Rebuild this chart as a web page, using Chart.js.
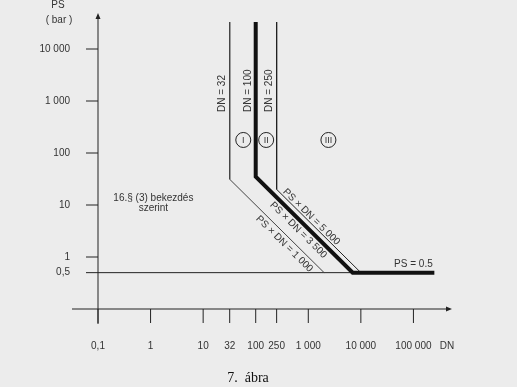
<!DOCTYPE html>
<html>
<head>
<meta charset="utf-8">
<script src="https://cdn.jsdelivr.net/npm/chart.js@4/dist/chart.umd.min.js"></script>
<style>
  html, body { margin: 0; padding: 0; background: #ececec; }
  canvas { display: block; }
</style>
</head>
<body>
<canvas id="chart" width="517" height="387"></canvas>
<script>
// ── Datos ────────────────────────────────────────────────────────────────
const xTicks      = [0.1, 1, 10, 32, 100, 250, 1000, 10000, 100000];
const xTickLabels = ["0,1", "1", "10", "32", "100", "250", "1 000", "10 000", "100 000"];
const yTicks      = [0.5, 1, 10, 100, 1000, 10000];
const yTickLabels = ["0,5", "1", "10", "100", "1 000", "10 000"];

// DN = 100 / PS x DN = 3 500 / PS = 0.5 (vastag)
const thickDN = [100, 100, 7000, 250000];
const thickPS = [33000, 35, 0.5, 0.5];
// DN = 32 / PS x DN = 1 000
const dn32DN = [32, 32, 2000];
const dn32PS = [33000, 31.25, 0.5];
// DN = 250 / PS x DN = 5 000
const dn250DN = [250, 250, 10000];
const dn250PS = [33000, 20, 0.5];
// PS = 0.5 (vékony)
const baseDN = [0.1, 7000];
const basePS = [0.5, 0.5];

const pts = (xs, ys) => xs.map((x, i) => ({ x, y: ys[i] }));

const INK  = "#222";
const TEXT = "#333";
const SANS = "'Liberation Sans', Arial, sans-serif";

// ── Rajz ─────────────────────────────────────────────────────────────────
const drawing = {
  id: "drawing",
  beforeDraw(chart) {
    const { ctx, width, height } = chart;
    ctx.save();
    ctx.fillStyle = "#ececec";
    ctx.fillRect(0, 0, width, height);
    ctx.restore();
  },
  afterDatasetsDraw(chart) {
    const { ctx } = chart;
    const xs = chart.scales.x, ys = chart.scales.y;
    const px = (v) => xs.getPixelForValue(v);
    const py = (v) => ys.getPixelForValue(v);
    const x0 = px(0.1), y0 = py(0.1);

    ctx.save();
    ctx.strokeStyle = INK;
    ctx.fillStyle = INK;
    ctx.lineWidth = 1;

    // tengelyek
    ctx.beginPath();
    ctx.moveTo(x0, y0 + 15); ctx.lineTo(x0, 17);
    ctx.moveTo(x0 - 26, y0); ctx.lineTo(448, y0);
    ctx.stroke();
    ctx.beginPath();
    ctx.moveTo(x0, 13); ctx.lineTo(x0 - 2.5, 19); ctx.lineTo(x0 + 2.5, 19); ctx.closePath();
    ctx.moveTo(452, y0); ctx.lineTo(446, y0 - 2.5); ctx.lineTo(446, y0 + 2.5); ctx.closePath();
    ctx.fill();

    // osztások
    ctx.font = `10px ${SANS}`;
    ctx.fillStyle = TEXT;
    ctx.textBaseline = "middle";
    ctx.textAlign = "center";
    xTicks.forEach((v, i) => {
      const x = px(v);
      ctx.beginPath(); ctx.moveTo(x, y0); ctx.lineTo(x, y0 + 14); ctx.stroke();
      ctx.fillText(xTickLabels[i], x, y0 + 37);
    });
    ctx.fillText("DN", 447, y0 + 37);
    ctx.textAlign = "right";
    yTicks.forEach((v, i) => {
      const y = py(v);
      ctx.beginPath(); ctx.moveTo(x0 - 12, y); ctx.lineTo(x0, y); ctx.stroke();
      ctx.fillText(yTickLabels[i], x0 - 28, y);
    });
    ctx.textAlign = "center";
    ctx.fillText("PS", x0 - 40, 5);
    ctx.fillText("( bar )", x0 - 39, 20);

    // DN feliratok (függőleges)
    [[32, "DN = 32"], [100, "DN = 100"], [250, "DN = 250"]].forEach(([dn, t]) => {
      ctx.save();
      ctx.translate(px(dn) - 7, py(615));
      ctx.rotate(-Math.PI / 2);
      ctx.textAlign = "left";
      ctx.fillText(t, 0, 0);
      ctx.restore();
    });

    // kategóriák
    [[58, "I"], [158, "II"], [2415, "III"]].forEach(([dn, t]) => {
      const x = px(dn), y = py(178);
      ctx.beginPath(); ctx.arc(x, y, 7.5, 0, Math.PI * 2); ctx.stroke();
      ctx.font = `9px ${SANS}`;
      ctx.fillText(t, x, y + 0.5);
    });

    // ferde feliratok
    const ang = Math.atan2(py(1) - py(10), px(10) - px(1));
    ctx.font = `10px ${SANS}`;
    [[1146, 5.88, "PS × DN = 5 000"], [648, 3.3, "PS × DN = 3 500"], [351, 1.78, "PS × DN = 1 000"]]
      .forEach(([dn, ps, t]) => {
        ctx.save();
        ctx.translate(px(dn), py(ps));
        ctx.rotate(ang);
        ctx.fillText(t, 0, 0);
        ctx.restore();
      });

    ctx.fillText("PS = 0.5", px(100000), py(0.5) - 8);
    ctx.fillText("16.§ (3) bekezdés", px(1.13), py(13.6));
    ctx.fillText("szerint", px(1.13), py(13.6) + 10);

    ctx.font = "14px 'Liberation Serif', 'Times New Roman', serif";
    ctx.fillStyle = "#111";
    ctx.fillText("7.  ábra", 248, 378);
    ctx.restore();
  },
};

const line = (data, width, color) => ({
  data,
  showLine: true,
  borderColor: color,
  borderWidth: width,
  pointRadius: 0,
  tension: 0,
  clip: false,
  borderJoinStyle: "miter",
});

new Chart(document.getElementById("chart"), {
  type: "scatter",
  data: {
    datasets: [
      line(pts(thickDN, thickPS), 4, "#111"),
      line(pts(dn32DN, dn32PS), 1, "#444"),
      line(pts(dn250DN, dn250PS), 1, INK),
      line(pts(baseDN, basePS), 1, INK),
    ],
  },
  options: {
    responsive: false,
    animation: false,
    layout: { padding: { left: 98, right: 51, top: 49, bottom: 78 } },
    plugins: { legend: { display: false }, tooltip: { enabled: false } },
    scales: {
      x: { type: "logarithmic", min: 0.1, max: 1000000, display: false },
      y: { type: "logarithmic", min: 0.1, max: 10000, display: false },
    },
  },
  plugins: [drawing],
});
</script>
</body>
</html>
